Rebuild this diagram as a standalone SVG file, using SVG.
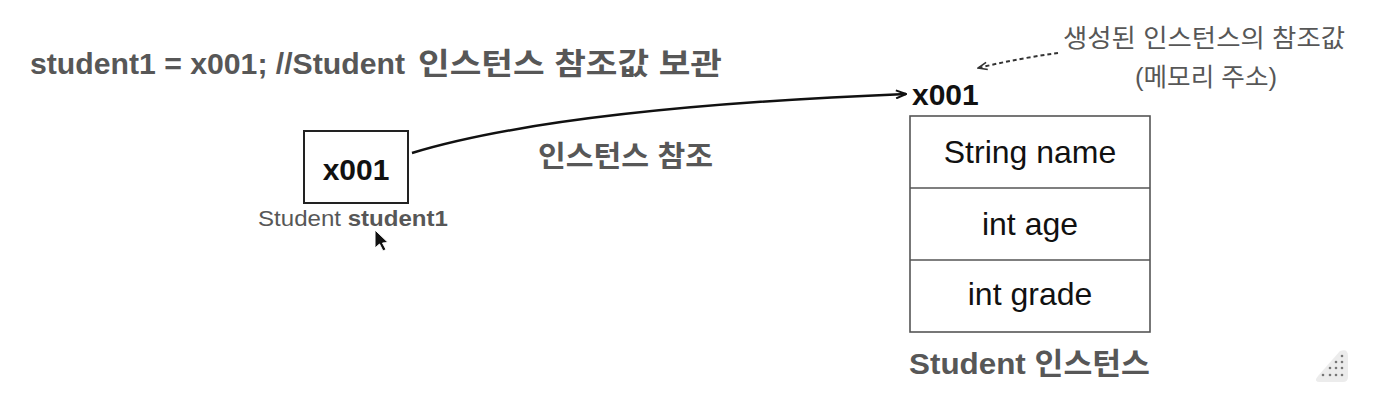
<svg xmlns="http://www.w3.org/2000/svg" width="1398" height="406" viewBox="0 0 1398 406">
<defs>
<style>
.t{font-family:"Liberation Sans","Noto Sans CJK KR",sans-serif}
.gray{fill:#575757}
.blk{fill:#111}
.b{font-weight:bold}
.cell{font-size:32px;text-anchor:middle}
</style>
<marker id="ah" viewBox="0 0 12 10" refX="11" refY="5" markerWidth="12" markerHeight="10" markerUnits="userSpaceOnUse" orient="auto">
<path d="M1,1 L11,5 L1,9" fill="none" stroke="#111" stroke-width="2"/>
</marker>
<marker id="ah2" viewBox="0 0 12 10" refX="11" refY="5" markerWidth="11" markerHeight="10" markerUnits="userSpaceOnUse" orient="auto">
<path d="M1,1 L11,5 L1,9" fill="none" stroke="#333" stroke-width="1.8"/>
</marker>
</defs>
<rect width="1398" height="406" fill="#fff"/>
<text id="title" class="t b gray" y="74" font-size="30"><tspan x="30" textLength="375" lengthAdjust="spacingAndGlyphs">student1 = x001; //Student</tspan><tspan x="418" textLength="304" lengthAdjust="spacingAndGlyphs">인스턴스 참조값 보관</tspan></text>
<g id="ref-var">
<rect x="304" y="131" width="104" height="72" fill="#fff" stroke="#222" stroke-width="2"/>
<text class="t b blk" x="356" y="180" font-size="30" text-anchor="middle">x001</text>
<text class="t gray" x="258" y="226" font-size="22" textLength="190" lengthAdjust="spacingAndGlyphs">Student <tspan class="b">student1</tspan></text>
</g>
<g id="instance">
<text class="t b blk" x="912" y="105" font-size="30">x001</text>
<rect x="910" y="116" width="240" height="216" fill="#fff" stroke="#555" stroke-width="1.6"/>
<line x1="910" y1="188" x2="1150" y2="188" stroke="#555" stroke-width="1.6"/>
<line x1="910" y1="260" x2="1150" y2="260" stroke="#555" stroke-width="1.6"/>
<text class="t blk cell" x="1030" y="163">String name</text>
<text class="t blk cell" x="1030" y="235">int age</text>
<text class="t blk cell" x="1030" y="305">int grade</text>
<text class="t b gray" x="909" y="374" font-size="30" textLength="241" lengthAdjust="spacingAndGlyphs">Student 인스턴스</text>
</g>
<g id="note">
<text class="t gray" x="1063" y="47" font-size="25" textLength="282" lengthAdjust="spacingAndGlyphs">생성된 인스턴스의 참조값</text>
<text class="t gray" x="1135" y="86" font-size="25" textLength="142" lengthAdjust="spacingAndGlyphs">(메모리 주소)</text>
</g>
<g id="connectors">
<path d="M412,153 Q560,108 906,94" fill="none" stroke="#111" stroke-width="2.5" marker-end="url(#ah)"/>
<text class="t b gray" x="538" y="167" font-size="29" textLength="175" lengthAdjust="spacingAndGlyphs">인스턴스 참조</text>
<path d="M1058,53 Q1020,58 978,68" fill="none" stroke="#333" stroke-width="2" stroke-dasharray="4,3" marker-end="url(#ah2)"/>
</g>
<g id="cursor">
<path d="M375,230 L375,248 L379.5,244 L383,251 L386,249.5 L382.5,243 L388,242.5 Z" fill="#111" stroke="#fff" stroke-width="1"/>
</g>
<g id="resize-icon">
<path d="M1340,351 Q1348,348 1348,356 L1348,377 Q1348,382 1343,382 L1320,382 Q1313,382 1318,376 Z" fill="#ececec"/>
<g fill="#777">
<circle cx="1342" cy="356" r="1.3"/><circle cx="1342" cy="362" r="1.3"/><circle cx="1336" cy="362" r="1.3"/>
<circle cx="1342" cy="368" r="1.3"/><circle cx="1336" cy="368" r="1.3"/><circle cx="1330" cy="368" r="1.3"/>
<circle cx="1342" cy="375" r="1.3"/><circle cx="1336" cy="375" r="1.3"/><circle cx="1330" cy="375" r="1.3"/><circle cx="1323" cy="375" r="1.3"/>
</g>
</g>
</svg>
